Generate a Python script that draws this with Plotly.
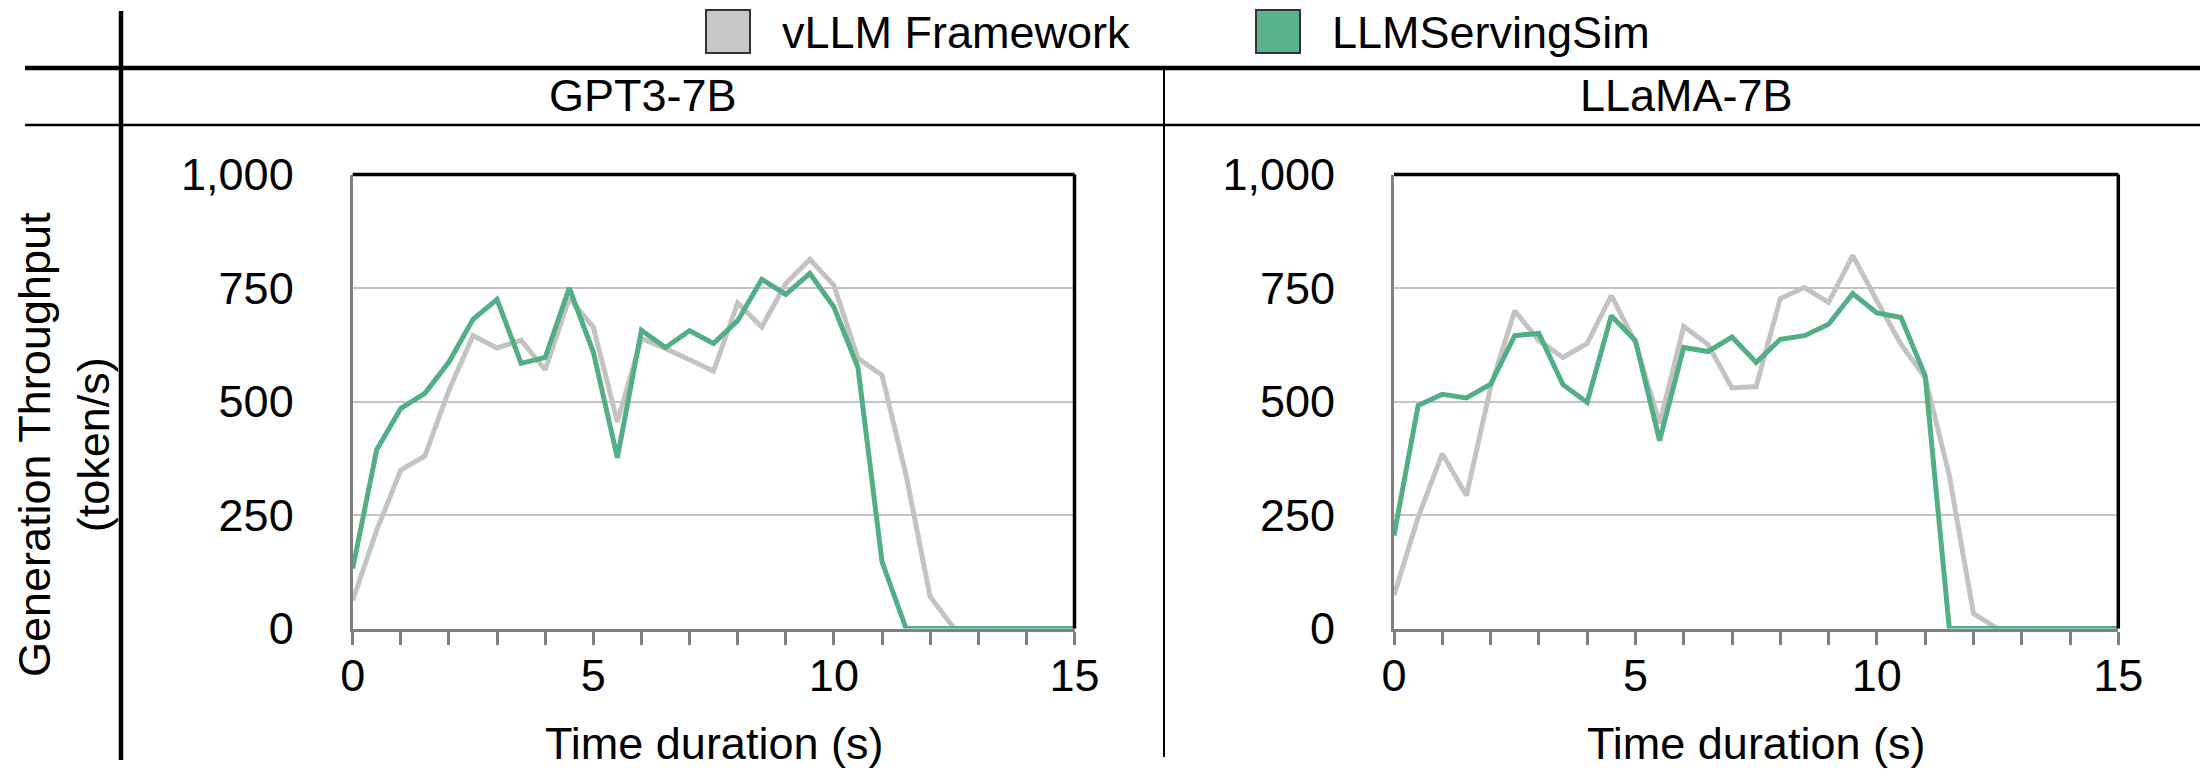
import plotly.graph_objects as go

# ---------------- data ----------------
time_s = [0, 0.5, 1, 1.5, 2, 2.5, 3, 3.5, 4, 4.5, 5, 5.5, 6, 6.5, 7, 7.5,
          8, 8.5, 9, 9.5, 10, 10.5, 11, 11.5, 12, 12.5, 13, 13.5, 14, 14.5, 15]

gpt3_vllm = [62, 217, 349, 380, 525, 645, 618, 635, 570, 727, 664, 455, 639, 617, 592, 567,
             717, 664, 760, 813, 756, 595, 558, 338, 70, 0, 0, 0, 0, 0, 0]
gpt3_sim = [132, 394, 485, 518, 587, 681, 725, 584, 597, 750, 609, 376, 657, 619, 656, 628,
            678, 769, 736, 782, 708, 575, 147, 0, 0, 0, 0, 0, 0, 0, 0]
llama_vllm = [73, 245, 385, 293, 531, 700, 634, 597, 628, 733, 630, 451, 665, 626, 530, 533,
              727, 751, 718, 822, 722, 626, 553, 337, 33, 0, 0, 0, 0, 0, 0]
llama_sim = [205, 491, 516, 508, 538, 645, 650, 537, 498, 689, 634, 414, 619, 610, 642, 586,
             637, 645, 670, 738, 695, 685, 557, 0, 0, 0, 0, 0, 0, 0, 0]

panel_titles = ["GPT3-7B", "LLaMA-7B"]
series_names = ["vLLM Framework", "LLMServingSim"]
y_ticks = [0, 250, 500, 750, 1000]
x_ticks = [0, 5, 10, 15]

# ---------------- style ----------------
# the page body adds an 8px margin, so the figure is 8px smaller and shifted
OFF = 8
W, H = 2208 - OFF, 771 - OFF
FONT = "Liberation Sans, Arial, Helvetica, sans-serif"
FS = 45
GRAY = "#C3C3C3"
GREEN = "#52AE84"
AXIS = "#808080"
GRID = "#C4C4C4"


def px(x):
    return (x - OFF) / W


def py(y):
    return 1 - (y - OFF) / H


fig = go.Figure()

panels = [(gpt3_vllm, gpt3_sim, "x", "y"), (llama_vllm, llama_sim, "x2", "y2")]
for vllm, sim, xa, ya in panels:
    fig.add_trace(go.Scatter(x=time_s, y=vllm, mode="lines", name=series_names[0],
                             line=dict(color=GRAY, width=5), showlegend=False,
                             xaxis=xa, yaxis=ya))
    fig.add_trace(go.Scatter(x=time_s, y=sim, mode="lines", name=series_names[1],
                             line=dict(color=GREEN, width=5), showlegend=False,
                             xaxis=xa, yaxis=ya))

ydom = [py(628.5), py(174.5)]
xdoms = [[px(352.7), px(1074.5)], [px(1394), px(2118.3)]]

common_x = dict(range=[0, 15], tickvals=x_ticks, ticks="outside", ticklen=13, tickwidth=2.5,
                tickcolor=AXIS, showline=True, linecolor=AXIS, linewidth=3, showgrid=False,
                zeroline=False, tickfont=dict(family=FONT, size=FS, color="black"),
                minor=dict(dtick=1, ticks="outside", ticklen=13, tickwidth=2.5, tickcolor=AXIS,
                           showgrid=False),
                ticklabelstandoff=-8, automargin=False, fixedrange=True)
common_y = dict(range=[0, 1000], tickvals=y_ticks, tickformat=",d", ticks="", showline=True,
                linecolor=AXIS, linewidth=3, showgrid=True, gridcolor=GRID, gridwidth=2,
                zeroline=False, tickfont=dict(family=FONT, size=FS, color="black"),
                ticklabelstandoff=47, automargin=False, fixedrange=True)

fig.update_layout(
    template="none",
    width=W, height=H,
    autosize=False,
    margin=dict(l=0, r=0, t=0, b=0, pad=0),
    paper_bgcolor="white", plot_bgcolor="white",
    showlegend=False,
    font=dict(family=FONT, size=FS, color="black"),
    xaxis=dict(domain=xdoms[0], anchor="y", **common_x),
    yaxis=dict(domain=ydom, anchor="x", **common_y),
    xaxis2=dict(domain=xdoms[1], anchor="y2", **common_x),
    yaxis2=dict(domain=ydom, anchor="x2", **common_y),
)

shapes = []
# table-like frame lines
shapes.append(dict(type="line", xref="paper", yref="paper", x0=px(25), x1=1, y0=py(68), y1=py(68),
                   line=dict(color="black", width=4.5)))
shapes.append(dict(type="line", xref="paper", yref="paper", x0=px(121), x1=px(121), y0=py(11),
                   y1=py(760), line=dict(color="black", width=4.5)))
shapes.append(dict(type="line", xref="paper", yref="paper", x0=px(25), x1=1, y0=py(125), y1=py(125),
                   line=dict(color="black", width=2.5)))
shapes.append(dict(type="line", xref="paper", yref="paper", x0=px(1164), x1=px(1164), y0=py(68),
                   y1=py(757), line=dict(color="black", width=2)))
# top / right plot borders
for xa, ya in [("x", "y"), ("x2", "y2")]:
    shapes.append(dict(type="line", xref=f"{xa} domain", yref=f"{ya} domain", x0=0, x1=1, y0=1, y1=1,
                       line=dict(color="black", width=3.5)))
    shapes.append(dict(type="line", xref=f"{xa} domain", yref=f"{ya} domain", x0=1, x1=1, y0=0, y1=1,
                       line=dict(color="black", width=3.5)))
# legend boxes
shapes.append(dict(type="rect", xref="paper", yref="paper", x0=px(706), x1=px(750), y0=py(53), y1=py(10),
                   fillcolor="#C8C8C8", line=dict(color="#333333", width=2)))
shapes.append(dict(type="rect", xref="paper", yref="paper", x0=px(1256), x1=px(1300), y0=py(53),
                   y1=py(10), fillcolor="#5BB38B", line=dict(color="#333333", width=2)))
fig.update_layout(shapes=shapes)

ann = []
ann.append(dict(text=series_names[0], x=px(780), y=py(32), xref="paper", yref="paper",
                xanchor="left", yanchor="middle", showarrow=False, font=dict(size=FS)))
ann.append(dict(text=series_names[1], x=px(1330), y=py(32), xref="paper", yref="paper",
                xanchor="left", yanchor="middle", showarrow=False, font=dict(size=FS)))
ann.append(dict(text=panel_titles[0], x=px(643), y=py(96), xref="paper", yref="paper",
                xanchor="center", yanchor="middle", showarrow=False, font=dict(size=FS)))
ann.append(dict(text=panel_titles[1], x=px(1686), y=py(96), xref="paper", yref="paper",
                xanchor="center", yanchor="middle", showarrow=False, font=dict(size=FS)))
for xd in xdoms:
    ann.append(dict(text="Time duration (s)", x=(xd[0] + xd[1]) / 2, y=py(743), xref="paper",
                    yref="paper", xanchor="center", yanchor="middle", showarrow=False,
                    font=dict(size=FS)))
ann.append(dict(text="Generation Throughput<br>(token/s)", x=px(64), y=py(445), xref="paper",
                yref="paper", xanchor="center", yanchor="middle", textangle=-90, showarrow=False,
                font=dict(size=FS)))
fig.update_layout(annotations=ann)

fig.write_html("out.html")
